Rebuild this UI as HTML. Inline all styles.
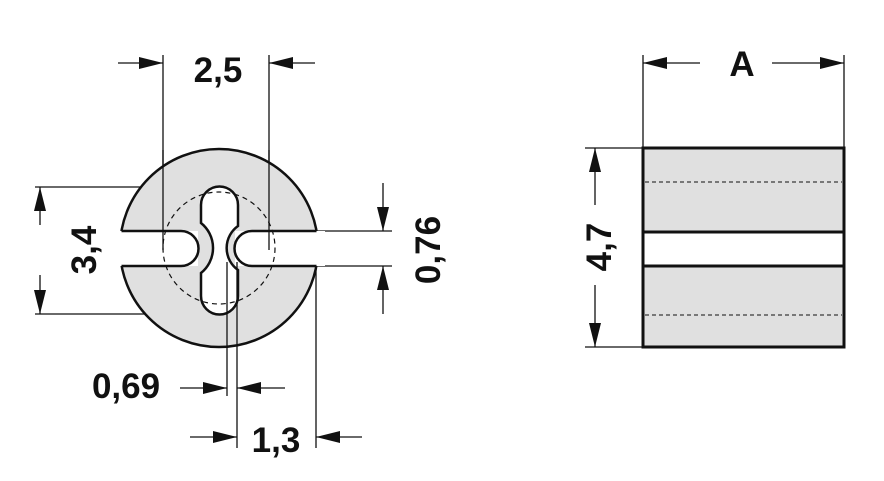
<!DOCTYPE html>
<html><head><style>body{margin:0;background:#fff}svg{display:block}text{font-family:"Liberation Sans",sans-serif;font-weight:bold;font-size:35px;fill:#111}</style></head><body>
<svg width="884" height="481" viewBox="0 0 884 481" xmlns="http://www.w3.org/2000/svg">
<defs><marker id="a" markerWidth="24" markerHeight="12" refX="24" refY="6" orient="auto" markerUnits="userSpaceOnUse" viewBox="0 0 24 12"><path d="M0,0L24,6L0,12z" fill="#111"/></marker></defs>
<g stroke="#111" stroke-width="1.3" fill="none">
<line x1="163" y1="55" x2="163" y2="250"/><line x1="269" y1="55" x2="269" y2="250"/>
<line x1="35" y1="187" x2="215" y2="187"/><line x1="35" y1="314" x2="215" y2="314"/>
<line x1="317" y1="231" x2="392" y2="231"/><line x1="317" y1="266" x2="392" y2="266"/>
<line x1="316" y1="266" x2="316" y2="448"/>
</g>
<circle cx="219" cy="248" r="99" fill="#e0e0e0" stroke="#111" stroke-width="2.5"/>
<rect x="110" y="231" width="88" height="35" fill="#fff"/>
<rect x="235" y="231" width="90" height="35" fill="#fff"/>
<g stroke="#111" stroke-width="2.5" fill="#fff">
<path d="M121.5,231 H181 A17.5,17.5 0 0 1 181,266 H121.5" />
<path d="M316.5,231 H252 A17.5,17.5 0 0 0 252,266 H316.5" />
<path d="M201,205 A18.5,18.5 0 0 1 238,205 V226 A27,27 0 0 0 238,270 V296 A18.5,18.5 0 0 1 201,296 V273 A32,32 0 0 0 201,223 Z"/>
</g>
<circle cx="219" cy="248" r="56" fill="none" stroke="#111" stroke-width="1.2" stroke-dasharray="5,4"/>
<g stroke="#111" stroke-width="1.3" fill="none">
<line x1="163" y1="150" x2="163" y2="250"/><line x1="269" y1="150" x2="269" y2="250"/>
<line x1="227" y1="262" x2="227" y2="396"/><line x1="237" y1="262" x2="237" y2="448"/>
</g>
<g stroke="#111" stroke-width="1.3" marker-end="url(#a)">
<line x1="118" y1="63" x2="163" y2="63"/><line x1="315" y1="63" x2="269" y2="63"/>
<line x1="40" y1="225" x2="40" y2="187"/><line x1="40" y1="275" x2="40" y2="314"/>
<line x1="383" y1="183" x2="383" y2="231"/><line x1="383" y1="314" x2="383" y2="266"/>
<line x1="180" y1="388" x2="227" y2="388"/><line x1="285" y1="388" x2="237" y2="388"/>
<line x1="190" y1="437" x2="237" y2="437"/><line x1="362" y1="437" x2="316" y2="437"/>
<line x1="700" y1="63" x2="643" y2="63"/><line x1="772" y1="63" x2="844" y2="63"/>
<line x1="595" y1="205" x2="595" y2="148"/><line x1="595" y1="285" x2="595" y2="347"/>
</g>
<text x="218" y="82" text-anchor="middle">2,5</text>
<text x="126" y="398" text-anchor="middle">0,69</text>
<text x="276" y="452" text-anchor="middle">1,3</text>
<text x="742" y="76" text-anchor="middle">A</text>
<text transform="translate(96,250) rotate(-90)" text-anchor="middle">3,4</text>
<text transform="translate(440,250) rotate(-90)" text-anchor="middle">0,76</text>
<text transform="translate(611,247) rotate(-90)" text-anchor="middle">4,7</text>
<g stroke="#111" stroke-width="1.3">
<line x1="643" y1="55" x2="643" y2="148"/><line x1="844" y1="55" x2="844" y2="148"/>
<line x1="585" y1="148" x2="643" y2="148"/><line x1="585" y1="347" x2="643" y2="347"/>
</g>
<rect x="643" y="148" width="201" height="199" fill="#e0e0e0" stroke="#111" stroke-width="3"/>
<rect x="643" y="232" width="201" height="34" fill="#fff" stroke="#111" stroke-width="3"/>
<g stroke="#111" stroke-width="1" stroke-dasharray="4,3">
<line x1="645" y1="182" x2="842" y2="182"/><line x1="645" y1="315" x2="842" y2="315"/>
</g>
</svg>
</body></html>
